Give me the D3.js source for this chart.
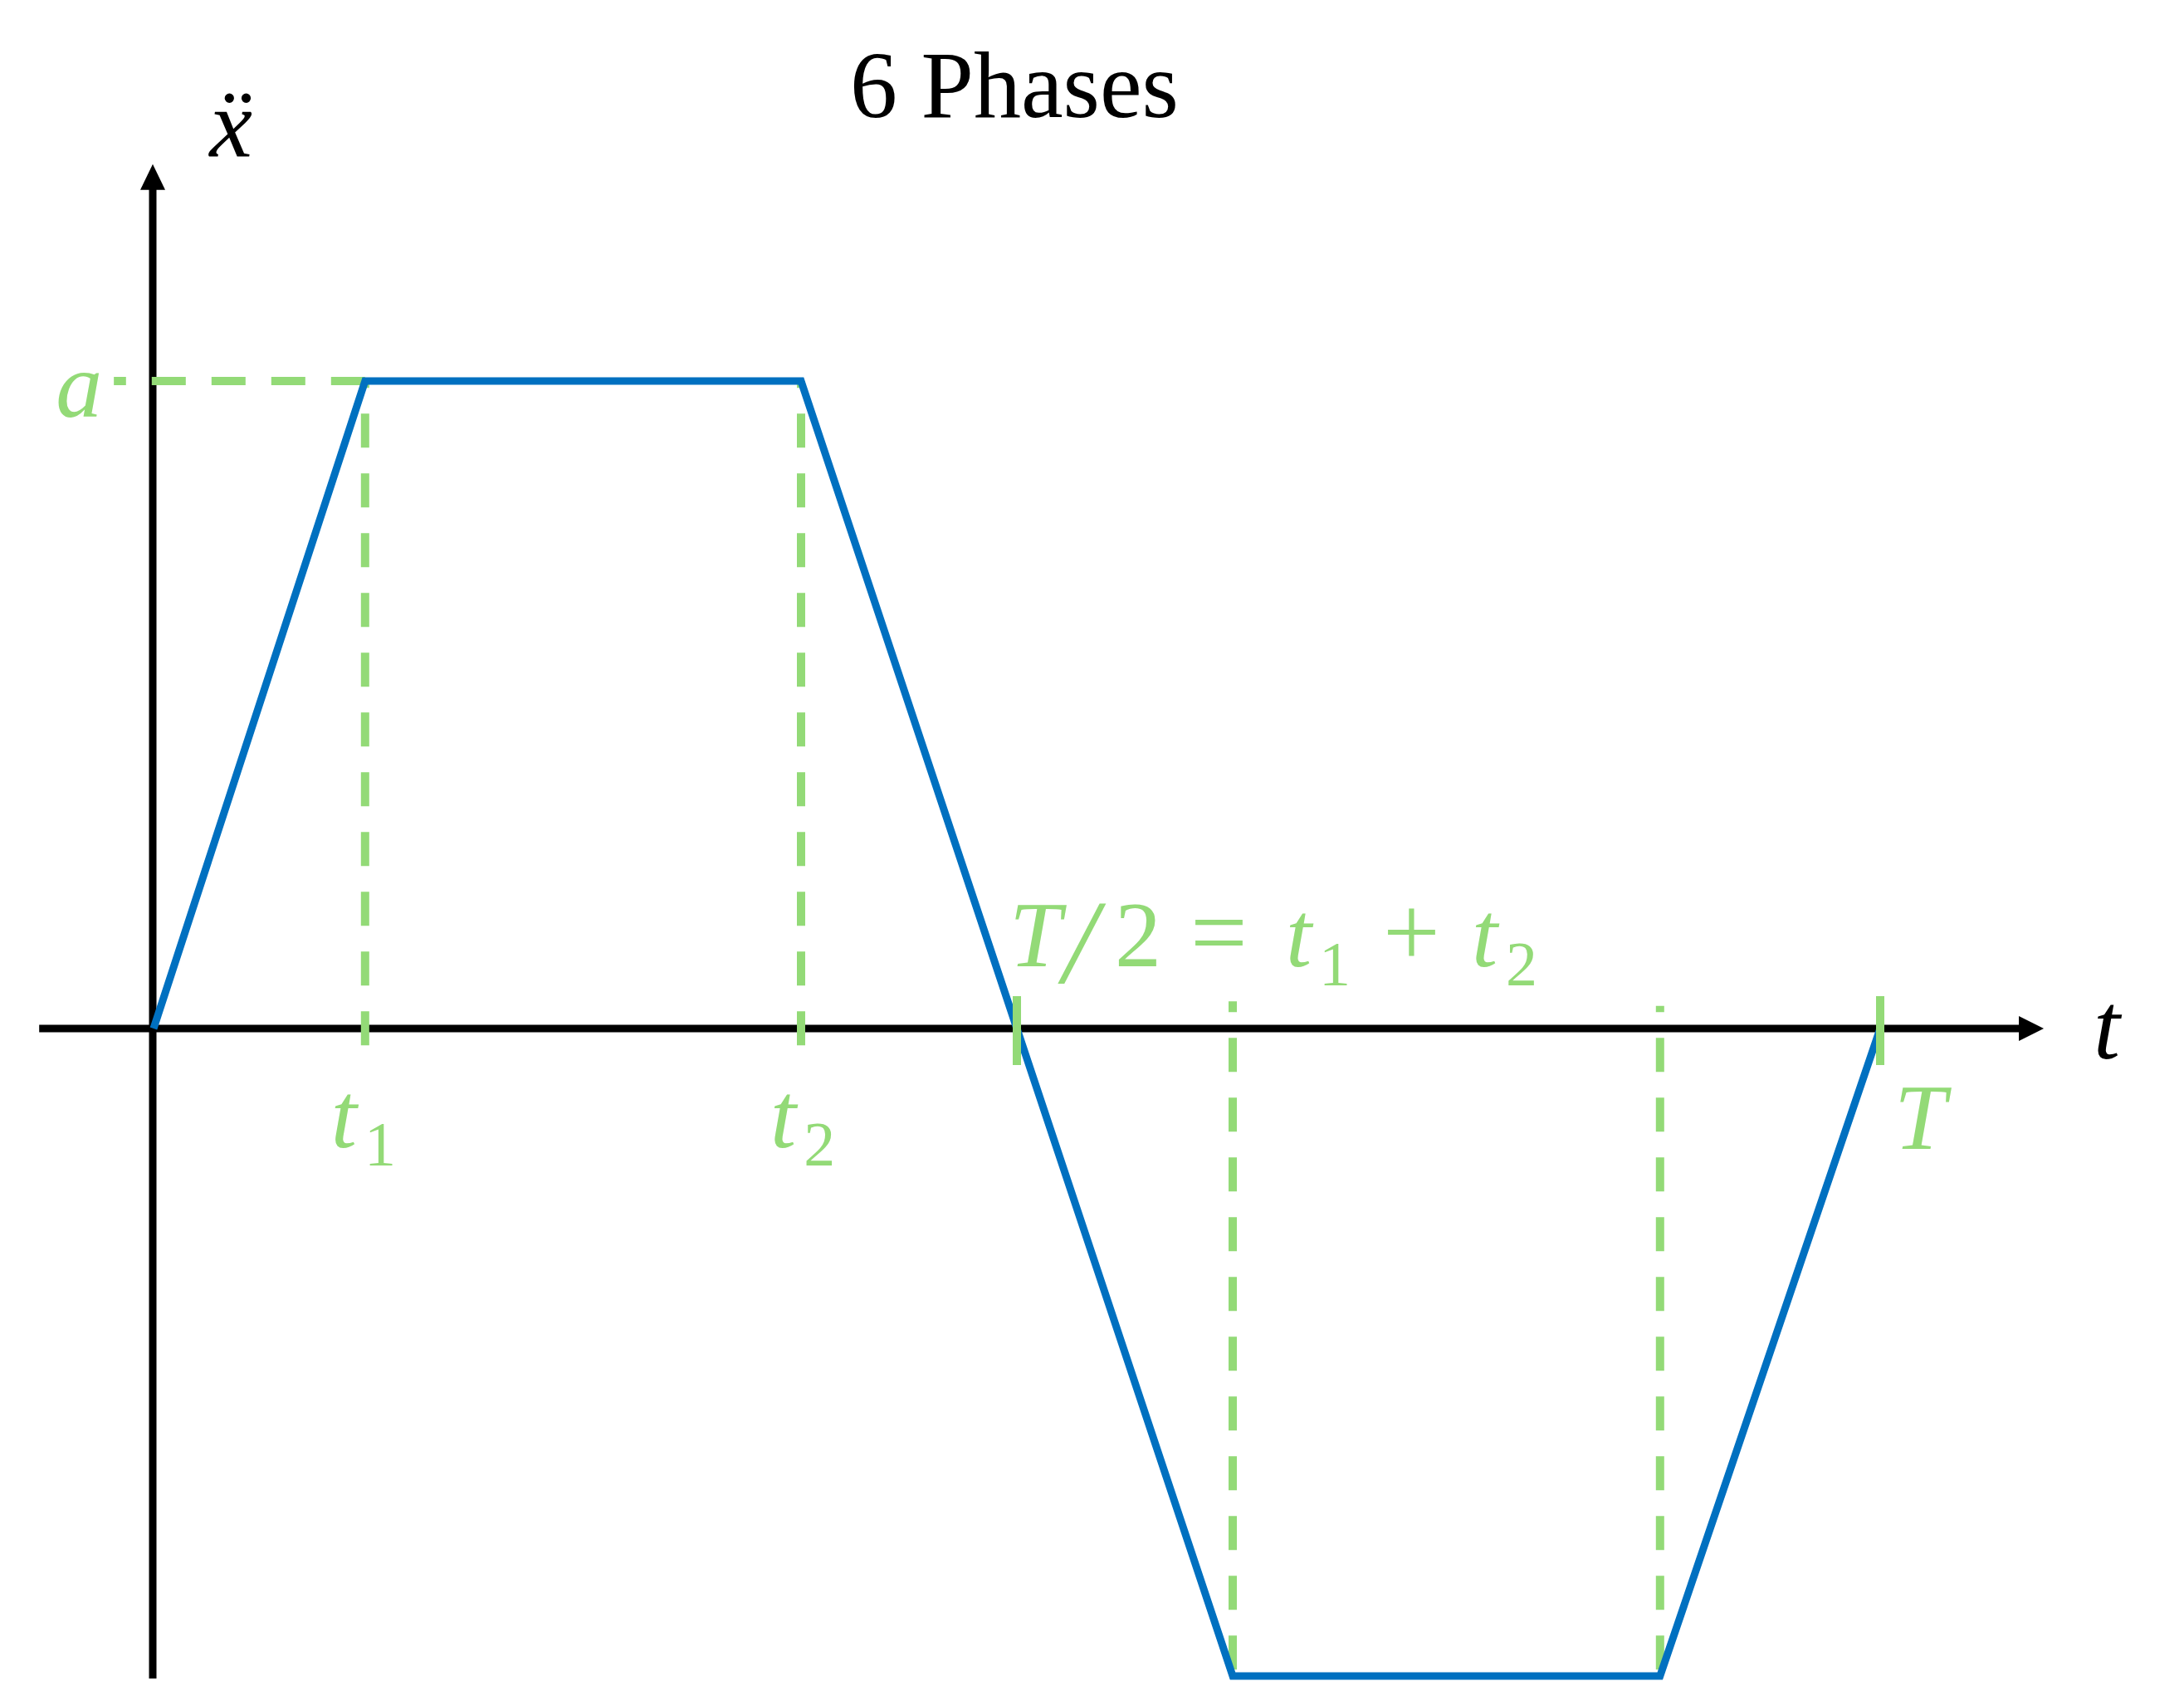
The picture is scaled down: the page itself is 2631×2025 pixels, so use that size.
<!DOCTYPE html>
<html lang="en">
<head>
<meta charset="UTF-8">
<title>6 Phases</title>
<style>
body { margin: 0; background: #fff; }
.axis { stroke: #000; stroke-width: 9px; fill: none; }
.accel { stroke: #0070C0; stroke-width: 9px; fill: none; stroke-linejoin: miter; }
.guide { stroke: #93DA77; stroke-width: 10px; fill: none; stroke-dasharray: 41,31; }
.tick { stroke: #93DA77; stroke-width: 10px; }
text { font-family: "Liberation Serif", "DejaVu Serif", serif; }
.math { fill: #93DA77; }
</style>
</head>
<body>
<script src="https://cdnjs.cloudflare.com/ajax/libs/d3/7.8.5/d3.min.js"></script>
<script>
// phase boundaries (time) and acceleration at each boundary
var phaseTimes = [0, 0.98, 3, 4, 5, 6.98, 8];
var accel = [0, 1, 1, 0, -1, -1, 0];
// dashed guide lines: [t, yFrom, yTo]
var upperGuides = [[0.98, -0.026, 1], [3, -0.026, 1]];
var lowerGuides = [[5, -0.99, 0.042], [6.98, -0.99, 0.035]];
var solidTicks = [4, 8];

var width = 2631, height = 2025;
var svg = d3.select("body").append("svg")
  .attr("width", width).attr("height", height);

var x = d3.scaleLinear().domain([0, 8]).range([185, 2265]);
var y = d3.scaleLinear().domain([-1, 1]).range([2019, 459]);

// axes
var xEnd = x(8.758), yTop = y(1.335);
svg.append("line").attr("class", "axis")
  .attr("x1", x(-0.53)).attr("x2", xEnd - 28)
  .attr("y1", y(0)).attr("y2", y(0));
svg.append("path").attr("fill", "#000")
  .attr("d", `M${xEnd},${y(0)} L${xEnd - 30},${y(0) - 15} L${xEnd - 30},${y(0) + 15} Z`);
svg.append("line").attr("class", "axis")
  .attr("x1", x(0) - 1).attr("x2", x(0) - 1)
  .attr("y1", y(-1.004)).attr("y2", yTop + 28);
svg.append("path").attr("fill", "#000")
  .attr("d", `M${x(0) - 1},${yTop} L${x(0) - 16},${yTop + 31} L${x(0) + 14},${yTop + 31} Z`);

// dashed guides
svg.append("line").attr("class", "guide")
  .attr("x1", x(0.98)).attr("x2", x(-0.184))
  .attr("y1", y(1)).attr("y2", y(1));
upperGuides.concat(lowerGuides).forEach(function (g) {
  svg.append("line").attr("class", "guide")
    .attr("x1", x(g[0])).attr("x2", x(g[0]))
    .attr("y1", y(g[1])).attr("y2", y(g[2]));
});

// acceleration profile
var line = d3.line().x((d, i) => x(phaseTimes[i])).y(d => y(d));
svg.append("path").attr("class", "accel").attr("d", line(accel));

// T/2 and T ticks
svg.selectAll("line.tick").data(solidTicks).enter().append("line")
  .attr("class", "tick")
  .attr("x1", d => x(d)).attr("x2", d => x(d))
  .attr("y1", y(0) - 39).attr("y2", y(0) + 44);

// title and axis labels
svg.append("text").attr("x", 1222).attr("y", 141)
  .attr("text-anchor", "middle").style("font-size", "114px").text("6 Phases");
svg.append("text").attr("x", x(0) + 93).attr("y", 188)
  .attr("text-anchor", "middle").style("font-size", "116px")
  .attr("font-style", "italic").text("\u1E8D");
svg.append("text").attr("x", xEnd + 60).attr("y", y(0) + 36)
  .style("font-size", "115px").attr("font-style", "italic").text("t");

// green math labels
svg.append("text").attr("class", "math").style("font-size", "112px")
  .attr("x", x(-0.184) - 14).attr("y", y(1) + 43)
  .attr("text-anchor", "end").attr("font-style", "italic").text("a");

function subLabel(x0, base, sym, sub) {
  var t = svg.append("text").attr("class", "math").style("font-size", "112px")
    .attr("x", x0).attr("y", base);
  t.append("tspan").attr("font-style", "italic").text(sym);
  t.append("tspan").attr("dx", 9).attr("dy", 22).style("font-size", "76px").text(sub);
}
subLabel(x(0.98) - 41, y(0) + 143, "t", "1");
subLabel(x(3) - 37, y(0) + 143, "t", "2");

svg.append("text").attr("class", "math").style("font-size", "112px")
  .attr("x", x(8) + 17).attr("y", y(0) + 145)
  .attr("font-style", "italic").text("T");

// T/2 = t1 + t2
var fx = x(4), fb = y(0) - 75;
var formula = [
  ["T", -9, 0, 112, "italic"],
  ["/", 56, 20, 145, "italic"],
  ["2", 118, 0, 112, "normal"],
  ["=", 209, 0, 122, "normal"],
  ["t", 324, 0, 112, "italic"],
  ["1", 364, 23, 76, "normal"],
  ["+", 441, 0, 122, "normal"],
  ["t", 548, 0, 112, "italic"],
  ["2", 589, 23, 76, "normal"]
];
svg.selectAll("text.formula").data(formula).enter().append("text")
  .attr("class", "math formula")
  .attr("x", d => fx + d[1]).attr("y", d => fb + d[2])
  .style("font-size", d => d[3] + "px").attr("font-style", d => d[4])
  .text(d => d[0]);
</script>
</body>
</html>
